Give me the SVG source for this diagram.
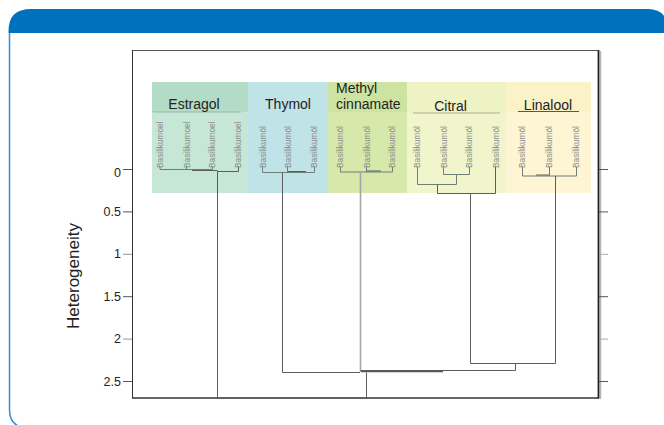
<svg xmlns="http://www.w3.org/2000/svg" width="664" height="425" viewBox="0 0 664 425">
  <style>
    .lbl { font-family: "Liberation Sans", Arial, sans-serif; fill: #222; }
    .cat { font-size: 14px; }
    .axis { font-size: 12.5px; text-anchor: end; }
    .leaf { font-family: "Liberation Sans", Arial, sans-serif; font-size: 8.3px; fill: #8a8a8a; }
    .tree { fill: none; stroke: #5c5c5c; stroke-width: 1; }
    .treeL { fill: none; stroke: #6f7f76; stroke-width: 1; }
    .tick { stroke: #555; stroke-width: 1; }
  </style>

  <!-- panel -->
  <g id="panel">
    <rect x="0" y="0" width="664" height="425" fill="#ffffff"/>
    <path d="M9.5 33 V410 Q9.5 425 24 428" fill="none" stroke="#3b8fd2" stroke-width="1.5"/>
    <path d="M8.5 33 V31 Q8.5 9 31 9 H648 Q664 9 668 24 V33 Z" fill="#0071bc"/>
  </g>

  <!-- plot frame and axes -->
  <g id="frame">
    <line x1="132" y1="50.5" x2="598" y2="50.5" stroke="#555" stroke-width="1"/>
    <line x1="132.5" y1="50" x2="132.5" y2="398" stroke="#333" stroke-width="1"/>
    <line x1="132" y1="398" x2="599" y2="398" stroke="#333" stroke-width="1.5"/>
    <line x1="600.5" y1="51" x2="600.5" y2="399" stroke="#b5b5b5" stroke-width="1.5"/>
    <line x1="598.5" y1="50" x2="598.5" y2="398.5" stroke="#222" stroke-width="1.8"/>
  </g>

  <g id="axis-left">
    <g class="tick">
      <line x1="123" y1="169.5" x2="132" y2="169.5"/>
      <line x1="123" y1="211.9" x2="132" y2="211.9"/>
      <line x1="123" y1="254.3" x2="132" y2="254.3" stroke="#999"/>
      <line x1="123" y1="296.7" x2="132" y2="296.7"/>
      <line x1="123" y1="339.1" x2="132" y2="339.1" stroke="#999"/>
      <line x1="123" y1="381.5" x2="132" y2="381.5"/>
    </g>
    <text class="lbl axis" x="121" y="177">0</text>
    <text class="lbl axis" x="121" y="216">0.5</text>
    <text class="lbl axis" x="121" y="258">1</text>
    <text class="lbl axis" x="121" y="301">1.5</text>
    <text class="lbl axis" x="121" y="343">2</text>
    <text class="lbl axis" x="121" y="386">2.5</text>
    <text class="lbl" font-size="17" text-anchor="middle" transform="translate(79 276) rotate(-90)">Heterogeneity</text>
  </g>

  <g id="axis-right" class="tick">
    <line x1="599" y1="169.5" x2="608" y2="169.5"/>
    <line x1="599" y1="211.9" x2="608" y2="211.9"/>
    <line x1="599" y1="254.3" x2="608" y2="254.3" stroke="#aaa"/>
    <line x1="599" y1="296.7" x2="608" y2="296.7"/>
    <line x1="599" y1="339.1" x2="608" y2="339.1" stroke="#aaa"/>
    <line x1="599" y1="381.5" x2="608" y2="381.5"/>
  </g>

  <!-- cluster bands -->
  <g id="estragol">
    <rect x="152" y="82" width="96" height="30" fill="#b3dbc6"/>
    <rect x="152" y="112" width="96" height="81" fill="#c7e7d6"/>
    <line x1="153" y1="112" x2="241" y2="112" stroke="#9bb8a8" stroke-width="1"/>
    <text class="lbl cat" x="194" y="109" text-anchor="middle">Estragol</text>
    <g class="leaf">
      <text transform="translate(162.5 168) rotate(-90)">Basilikumoel</text>
      <text transform="translate(189.5 168) rotate(-90)">Basilikumoel</text>
      <text transform="translate(214.5 168) rotate(-90)">Basilikumoel</text>
      <text transform="translate(241 168) rotate(-90)">Basilikumoel</text>
    </g>
  </g>

  <g id="thymol">
    <rect x="248" y="82" width="80" height="111" fill="#bfe3e6"/>
    <text class="lbl cat" x="288" y="109" text-anchor="middle">Thymol</text>
    <g class="leaf">
      <text transform="translate(265.5 168) rotate(-90)">Basilikumöl</text>
      <text transform="translate(290.5 168) rotate(-90)">Basilikumöl</text>
      <text transform="translate(317 168) rotate(-90)">Basilikumöl</text>
    </g>
  </g>

  <g id="methyl-cinnamate">
    <rect x="328" y="82" width="79" height="30" fill="#cde3a2"/>
    <rect x="328" y="112" width="79" height="81" fill="#d6e9aa"/>
    <text class="lbl cat" x="336" y="93">Methyl</text>
    <text class="lbl cat" x="336" y="109">cinnamate</text>
    <g class="leaf">
      <text transform="translate(343 168) rotate(-90)">Basilikumöl</text>
      <text transform="translate(369.5 168) rotate(-90)">Basilikumöl</text>
      <text transform="translate(395 168) rotate(-90)">Basilikumöl</text>
    </g>
  </g>

  <g id="citral">
    <rect x="407" y="82" width="99" height="31" fill="#eef3c6"/>
    <rect x="407" y="113" width="99" height="80" fill="#f1f5cc"/>
    <line x1="413" y1="113" x2="500" y2="113" stroke="#a9ad92" stroke-width="1"/>
    <text class="lbl cat" x="450.5" y="111" text-anchor="middle">Citral</text>
    <g class="leaf">
      <text transform="translate(420 168) rotate(-90)">Basilikumöl</text>
      <text transform="translate(446.5 168) rotate(-90)">Basilikumöl</text>
      <text transform="translate(472 168) rotate(-90)">Basilikumöl</text>
      <text transform="translate(499 168) rotate(-90)">Basilikumöl</text>
    </g>
  </g>

  <g id="linalool">
    <rect x="506" y="82" width="85" height="30" fill="#fcf2c8"/>
    <rect x="506" y="112" width="85" height="81" fill="#fdf5d3"/>
    <line x1="518" y1="111.5" x2="579" y2="111.5" stroke="#555" stroke-width="1"/>
    <text class="lbl cat" x="548" y="110" text-anchor="middle">Linalool</text>
    <g class="leaf">
      <text transform="translate(525 168) rotate(-90)">Basilikumöl</text>
      <text transform="translate(552 168) rotate(-90)">Basilikumöl</text>
      <text transform="translate(579 168) rotate(-90)">Basilikumöl</text>
    </g>
  </g>

  <!-- dendrogram connectors -->
  <g id="connectors">
    <!-- Estragol -->
    <path class="treeL" d="M160 167 V169.5 H212.5 V167 M186.5 167 V169.5"/>
    <path class="tree" d="M192 170.5 H217.5 M217.5 171.5 H238.5 V167"/>
    <path class="tree" d="M217.5 171 V398"/>
    <!-- Thymol -->
    <path class="treeL" d="M262.5 167 V172.5 H314.5 V167 M287.5 167 V172.5"/>
    <path class="tree" d="M288 171.5 H306"/>
    <path class="tree" d="M282.5 172.5 V372.5 H360"/>
    <!-- Methyl cinnamate -->
    <path class="treeL" d="M340.5 167 V172 H392.5 V167 M366.5 167 V172"/>
    <path class="tree" d="M367 171 H381"/>
    <path d="M360.5 172 V372" fill="none" stroke="#a6a6a6" stroke-width="1.6"/>
    <!-- Citral -->
    <path class="treeL" d="M443.5 167 V174.5 H469.5 V167 M456.5 174.5 V184.5 M417.5 167 V184.5 H456.5"/>
    <path class="tree" d="M437.5 184.5 V193.5 H495.5 V167"/>
    <path class="tree" d="M470.5 193.5 V363.5"/>
    <!-- Linalool -->
    <path class="treeL" d="M522.5 167 V176 H576.5 V167 M549.5 167 V176"/>
    <path class="tree" d="M536 175 H549"/>
    <path class="tree" d="M555.5 176 V363.5 H470.5"/>
    <!-- upper joins -->
    <path class="tree" d="M515.5 363.5 V370.5 H360.5"/>
    <path d="M361 371.5 H443" fill="none" stroke="#555" stroke-width="1.6"/>
    <path class="tree" d="M366.5 372.5 V398 H217.5"/>
  </g>
</svg>
